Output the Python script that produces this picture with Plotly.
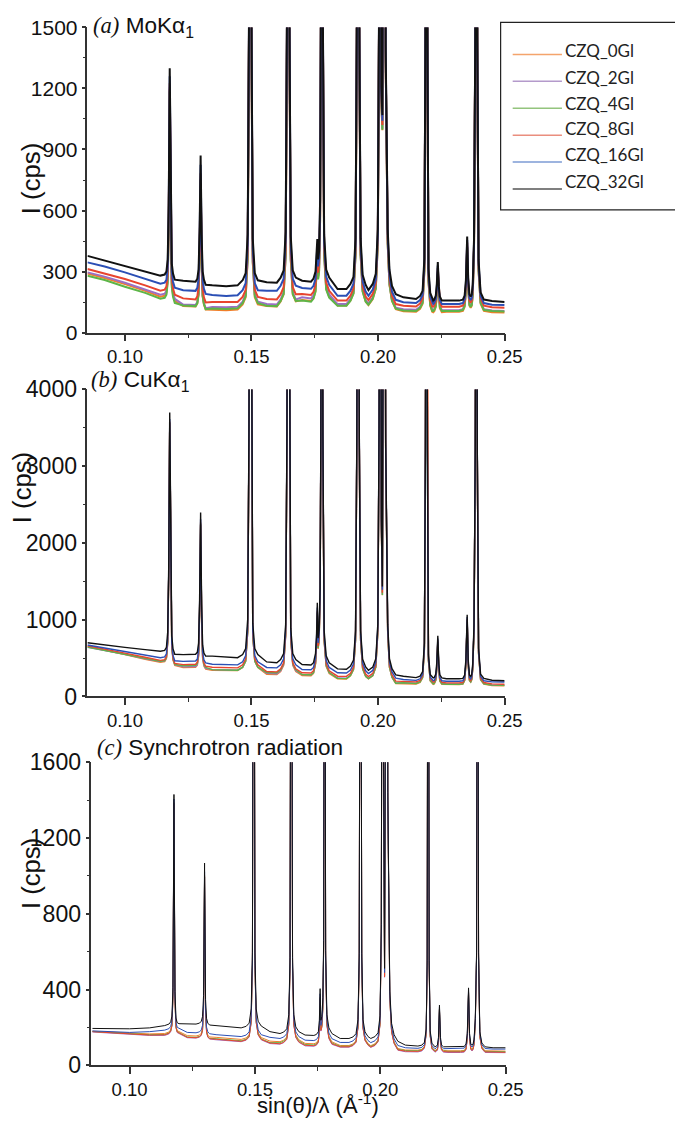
import plotly.graph_objects as go
from bisect import bisect_left

# Figure size in page pixels. Positions below are given in target-picture pixels and
# converted with the measured page -> picture mapping of the renderer.
FW, FH = 695, 1135
SX, OX = 0.969, 2.0
SY, OY = 0.980, 11.5
FS = 1.026  # font scale compensation

SERIES = ["CZQ_0Gl", "CZQ_2Gl", "CZQ_4Gl", "CZQ_8Gl", "CZQ_16Gl", "CZQ_32Gl"]
LINE_COLORS = ["#F07F2A", "#9B6FC4", "#5DB548", "#E8442E", "#2B4FB5", "#111111"]
LEGEND_COLORS = ["#F4A46C", "#B49ACB", "#93C47D", "#EA8E7E", "#7C9BD4", "#555555"]

# background anchor positions, sin(theta)/lambda (1/A)
BG_X = [0.0852, 0.0920, 0.1000, 0.1080, 0.1140, 0.1230, 0.1265, 0.1345, 0.1400, 0.1445,
        0.1560, 0.1600, 0.1700, 0.1735, 0.1840, 0.1875, 0.1962, 0.2100, 0.2150, 0.2218,
        0.2270, 0.2320, 0.2450, 0.2500]

# sampled positions across each Bragg peak group
PEAK_GROUPS_X = [
    [0.1157, 0.1164, 0.1169, 0.1173, 0.1177, 0.1181, 0.1185, 0.1190, 0.1197],
    [0.1279, 0.1286, 0.1291, 0.1295, 0.1299, 0.1303, 0.1307, 0.1312, 0.1319],
    [0.1465, 0.1477, 0.1485, 0.1490, 0.1495, 0.1500, 0.1505, 0.1513, 0.1525],
    [0.1615, 0.1627, 0.1635, 0.1640, 0.1645, 0.1650, 0.1655, 0.1663, 0.1675],
    [0.1745, 0.1753, 0.1757, 0.1760, 0.1763, 0.1767, 0.1771, 0.1774, 0.1778, 0.1782,
     0.1787, 0.1795, 0.1807],
    [0.1891, 0.1903, 0.1911, 0.1916, 0.1921, 0.1926, 0.1931, 0.1939, 0.1951],
    [0.1979, 0.1991, 0.1999, 0.2004, 0.2009, 0.2013, 0.2017, 0.2021, 0.2026, 0.2030,
     0.2034, 0.2038, 0.2045, 0.2055, 0.2070],
    [0.2166, 0.2176, 0.2183, 0.2187, 0.2191, 0.2195, 0.2199, 0.2206, 0.2214],
    [0.2222, 0.2228, 0.2232, 0.2236, 0.2240, 0.2244, 0.2252],
    [0.2335, 0.2342, 0.2347, 0.2352, 0.2356, 0.2361, 0.2366, 0.2370, 0.2374, 0.2379,
     0.2384, 0.2388, 0.2392, 0.2397, 0.2405, 0.2418],
]

# ---------------- (a) MoKa1 ----------------
A_BG_0GL = [290, 268, 238, 205, 176, 130, 128, 112, 110, 113, 130, 128, 160, 155, 133, 133, 135, 105, 102, 100, 102, 102, 100, 98]
A_BG_2GL = [296, 275, 245, 212, 186, 138, 135, 126, 124, 127, 140, 138, 173, 168, 140, 140, 142, 115, 112, 110, 110, 110, 108, 106]
A_BG_4GL = [279, 258, 225, 195, 166, 133, 130, 118, 116, 119, 132, 130, 157, 152, 132, 132, 137, 108, 106, 106, 106, 106, 106, 104]
A_BG_8GL = [312, 290, 263, 232, 206, 168, 163, 150, 148, 150, 165, 163, 190, 185, 157, 157, 160, 132, 128, 127, 127, 127, 124, 122]
A_BG_16GL = [345, 325, 296, 265, 240, 208, 205, 185, 180, 183, 206, 205, 219, 215, 181, 181, 181, 149, 145, 140, 140, 140, 137, 135]
A_BG_32GL = [377, 355, 328, 300, 280, 255, 250, 232, 228, 232, 247, 245, 255, 250, 214, 214, 209, 173, 165, 157, 157, 157, 155, 150]
A_PEAK_EXCESS = [
    [5, 20, 80, 350, 1020, 330, 60, 10, -20],
    [0, 15, 60, 250, 620, 230, 50, 10, -15],
    [25, 60, 250, 1300, 4000, 1300, 230, 60, 25],
    [25, 60, 250, 1300, 4000, 1300, 230, 60, 25],
    [15, 50, 120, 210, 110, 150, 400, 1300, 4000, 1300, 230, 60, 20],
    [25, 60, 250, 1300, 4000, 1300, 250, 70, 20],
    [30, 80, 300, 1400, 4000, 1000, 860, 3000, 4000, 1200, 580, 300, 100, 20, -20],
    [15, 40, 200, 1300, 4000, 1300, 150, 30, 0],
    [5, 25, 80, 190, 70, 20, 0],
    [5, 25, 100, 315, 110, 30, 20, 30, 80, 300, 1300, 4000, 1300, 200, 40, 5],
]

# ---------------- (b) CuKa1 ----------------
B_BG_0GL = [650, 605, 545, 485, 445, 376, 376, 342, 340, 338, 290, 285, 273, 270, 230, 228, 228, 169, 162, 158, 156, 156, 143, 140]
B_BG_2GL = [640, 600, 550, 490, 455, 385, 385, 350, 345, 342, 300, 295, 285, 282, 240, 238, 235, 180, 172, 168, 162, 162, 150, 148]
B_BG_4GL = [645, 600, 555, 495, 458, 400, 400, 350, 345, 342, 313, 308, 285, 282, 235, 233, 232, 178, 170, 165, 160, 160, 148, 145]
B_BG_8GL = [660, 620, 565, 510, 470, 415, 415, 380, 376, 372, 325, 320, 308, 305, 264, 262, 260, 199, 190, 185, 177, 177, 164, 160]
B_BG_16GL = [670, 630, 580, 535, 505, 457, 457, 420, 415, 412, 378, 372, 351, 348, 308, 305, 299, 221, 210, 205, 199, 199, 190, 188]
B_BG_32GL = [700, 670, 640, 610, 590, 545, 545, 525, 510, 505, 450, 440, 416, 410, 360, 355, 342, 264, 245, 242, 230, 230, 212, 205]
B_PEAK_EXCESS = [
    [10, 50, 250, 1100, 3110, 1000, 200, 30, -40],
    [5, 30, 150, 700, 1850, 650, 120, 20, -20],
    [40, 120, 500, 3000, 9000, 3000, 450, 120, 40],
    [40, 120, 500, 3000, 9000, 3000, 450, 120, 40],
    [30, 150, 400, 810, 350, 450, 1000, 3000, 9000, 3000, 450, 120, 30],
    [40, 120, 500, 3000, 9000, 3000, 500, 130, 30],
    [40, 150, 600, 3200, 9000, 2000, 1090, 6000, 9000, 3000, 1600, 600, 150, 20, -60],
    [20, 80, 450, 3000, 9000, 3000, 300, 40, 0],
    [5, 50, 200, 550, 180, 40, 0],
    [5, 50, 250, 835, 250, 50, 30, 60, 200, 700, 3000, 9000, 3000, 400, 60, 5],
]

# ---------------- (c) Synchrotron ----------------
C_BG_0GL = [180, 175, 168, 166, 168, 157, 155, 148, 140, 137, 128, 125, 116, 114, 105, 105, 104, 81, 80, 79, 77, 77, 75, 75]
C_BG_2GL = [176, 170, 163, 158, 158, 146, 144, 135, 128, 125, 115, 112, 103, 101, 96, 96, 95, 72, 71, 70, 68, 68, 67, 67]
C_BG_4GL = [179, 173, 166, 162, 163, 150, 148, 141, 133, 130, 120, 120, 110, 108, 101, 101, 100, 78, 77, 76, 74, 74, 72, 72]
C_BG_8GL = [178, 172, 165, 160, 161, 148, 146, 138, 130, 127, 118, 114, 106, 104, 98, 98, 97, 75, 74, 73, 71, 71, 69, 69]
C_BG_16GL = [182, 178, 174, 178, 186, 174, 172, 162, 155, 152, 148, 142, 133, 131, 121, 121, 120, 93, 90, 88, 89, 89, 86, 86]
C_BG_32GL = [195, 193, 193, 198, 210, 220, 218, 210, 202, 198, 178, 168, 160, 158, 142, 142, 142, 107, 102, 98, 98, 98, 93, 93]
C_PEAK_EXCESS = [
    [8, 20, 50, 200, 1220, 180, 40, 15, 10],
    [5, 15, 40, 150, 850, 130, 30, 5, -5],
    [8, 25, 100, 400, 4000, 400, 100, 35, 10],
    [8, 25, 100, 400, 4000, 400, 100, 35, 10],
    [5, 20, 80, 247, 80, 100, 200, 500, 4000, 450, 110, 40, 10],
    [8, 25, 100, 450, 4000, 450, 100, 35, 10],
    [10, 30, 120, 600, 4000, 1500, 370, 2500, 4000, 1300, 600, 250, 80, 20, -15],
    [5, 20, 90, 450, 4000, 450, 80, 15, 0],
    [2, 10, 50, 220, 50, 10, 0],
    [2, 15, 70, 311, 70, 15, 8, 15, 40, 150, 500, 4000, 500, 80, 20, 0],
]

# axis ticks
A_YTICKS = [0, 300, 600, 900, 1200, 1500]
B_YTICKS = [0, 1000, 2000, 3000, 4000]
C_YTICKS = [0, 400, 800, 1200, 1600]
X_TICKS = [0.10, 0.15, 0.20, 0.25]
X_TICK_TEXT = ["0.10", "0.15", "0.20", "0.25"]

PANELS = [
    dict(bg=[A_BG_0GL, A_BG_2GL, A_BG_4GL, A_BG_8GL, A_BG_16GL, A_BG_32GL], ex=A_PEAK_EXCESS, width=2.0),
    dict(bg=[B_BG_0GL, B_BG_2GL, B_BG_4GL, B_BG_8GL, B_BG_16GL, B_BG_32GL], ex=B_PEAK_EXCESS, width=1.4),
    dict(bg=[C_BG_0GL, C_BG_2GL, C_BG_4GL, C_BG_8GL, C_BG_16GL, C_BG_32GL], ex=C_PEAK_EXCESS, width=1.0),
]


def build(bg, excess_groups):
    pts = list(zip(BG_X, bg))
    for gx, ge in zip(PEAK_GROUPS_X, excess_groups):
        base = bg[bisect_left(BG_X, gx[0]) - 1]
        pts += [(x, base + e) for x, e in zip(gx, ge)]
    pts.sort()
    return [p[0] for p in pts], [p[1] for p in pts]


fig = go.Figure()
for k, panel in enumerate(PANELS):
    ax = "" if k == 0 else str(k + 1)
    for name, col, bg in zip(SERIES, LINE_COLORS, panel["bg"]):
        xs, ys = build(bg, panel["ex"])
        fig.add_trace(go.Scatter(x=xs, y=ys, mode="lines", name=name, showlegend=False,
                                 line=dict(color=col, width=panel["width"]),
                                 xaxis="x" + ax, yaxis="y" + ax))


def fx(xi):
    """target-picture x pixel -> paper fraction"""
    return ((xi - OX) / SX) / FW


def fy(yi):
    """target-picture y pixel (from top) -> paper fraction"""
    return 1 - ((yi - OY) / SY) / FH


def fs(size):
    return round(size * FS, 1)


AX_COL = "#333333"
FONT = "Liberation Sans, Arial"
XTICKFONT = dict(family=FONT, size=fs(18), color="#111111")

common_x = dict(showgrid=False, zeroline=False, showline=True, linecolor=AX_COL, linewidth=1.5,
                ticks="outside", ticklen=7, tickwidth=1.5, tickcolor=AX_COL,
                tickvals=X_TICKS, ticktext=X_TICK_TEXT, tickfont=XTICKFONT,
                minor=dict(dtick=0.025, tick0=0.1, ticks="outside", ticklen=4, tickwidth=1.2, tickcolor=AX_COL))
common_y = dict(showgrid=False, zeroline=False, showline=True, linecolor=AX_COL, linewidth=1.5,
                ticks="outside", ticklen=4, tickwidth=1.5, tickcolor=AX_COL)

fig.update_layout(
    width=FW, height=FH, margin=dict(l=0, r=0, t=0, b=0),
    paper_bgcolor="white", plot_bgcolor="white", showlegend=False,
    xaxis=dict(common_x, domain=[fx(89), fx(504)], range=[0.0852, 0.25], anchor="y"),
    yaxis=dict(common_y, domain=[fy(332), fy(26)], range=[0, 1500], tickvals=A_YTICKS,
               tickfont=dict(family=FONT, size=fs(20.5), color="#111111"),
               minor=dict(dtick=150, ticks="outside", ticklen=3, tickwidth=1.2, tickcolor=AX_COL), anchor="x"),
    xaxis2=dict(common_x, domain=[fx(89), fx(504)], range=[0.0852, 0.25], anchor="y2"),
    yaxis2=dict(common_y, domain=[fy(697), fy(389)], range=[0, 4000], tickvals=B_YTICKS,
                tickfont=dict(family=FONT, size=fs(22.5), color="#111111"),
                minor=dict(dtick=500, ticks="outside", ticklen=3, tickwidth=1.2, tickcolor=AX_COL), anchor="x2"),
    xaxis3=dict(common_x, domain=[fx(93), fx(505)], range=[0.0848, 0.25], anchor="y3"),
    yaxis3=dict(common_y, domain=[fy(1067), fy(763)], range=[0, 1600], tickvals=C_YTICKS,
                tickfont=dict(family=FONT, size=fs(22.5), color="#111111"),
                minor=dict(dtick=200, ticks="outside", ticklen=3, tickwidth=1.2, tickcolor=AX_COL), anchor="x3"),
)

ann = []
serif = "<span style='font-family:Liberation Serif'><i>%s</i></span> "
TITLE_FONT = dict(family=FONT, size=fs(22), color="#111111")
ann.append(dict(text=serif % "(a)" + "MoKα<sub>1</sub>", x=fx(94), y=fy(26), xanchor="left", yanchor="middle"))
ann.append(dict(text=serif % "(b)" + "CuKα<sub>1</sub>", x=fx(92), y=fy(381), xanchor="left", yanchor="middle"))
ann.append(dict(text=serif % "(c)" + "Synchrotron radiation", x=fx(97), y=fy(748), xanchor="left", yanchor="middle"))
for a in ann:
    a.update(xref="paper", yref="paper", showarrow=False, font=TITLE_FONT, borderpad=0)

YT_FONT = dict(family=FONT, size=fs(25), color="#111111")
for xc, yc in [(33, 178), (24, 488), (33, 875)]:
    ann.append(dict(text="I (cps)", x=fx(xc), y=fy(yc), xref="paper", yref="paper", showarrow=False,
                    textangle=-90, xanchor="center", yanchor="middle", font=YT_FONT, borderpad=0))
ann.append(dict(text="sin(θ)/λ (Å<sup>-1</sup>)", x=fx(318), y=fy(1106), xref="paper", yref="paper",
                showarrow=False, xanchor="center", yanchor="middle", borderpad=0,
                font=dict(family=FONT, size=fs(21.5), color="#111111")))

# legend box (drawn manually to match the reference layout)
shapes = [dict(type="rect", xref="paper", yref="paper", x0=fx(500), x1=fx(676), y0=fy(209), y1=fy(21),
               line=dict(color="#222222", width=1.2), fillcolor="rgba(0,0,0,0)")]
LEG_TEXT_Y = [49, 76, 102, 127, 153, 180]
LEG_LINE_Y = [53, 80, 107, 134, 161, 188]
for name, col, ty, ly in zip(SERIES, LEGEND_COLORS, LEG_TEXT_Y, LEG_LINE_Y):
    shapes.append(dict(type="line", xref="paper", yref="paper", x0=fx(512), x1=fx(561), y0=fy(ly), y1=fy(ly),
                       line=dict(color=col, width=1.5)))
    ann.append(dict(text=name, x=fx(563), y=fy(ty), xref="paper", yref="paper", showarrow=False,
                    xanchor="left", yanchor="middle", borderpad=0,
                    font=dict(family="Lato", size=17, color="#222222")))

fig.update_layout(annotations=ann, shapes=shapes)
fig.write_html("out.html")
